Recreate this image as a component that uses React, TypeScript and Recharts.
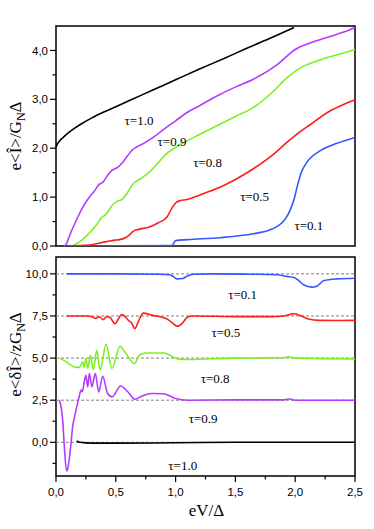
import React from 'react';
import { LineChart, Line, XAxis, YAxis, ReferenceLine, ReferenceArea, ReferenceDot } from 'recharts';

// ---------- Top panel: mean current e<I>/G_N Δ ----------
const topT10X = [0, 0.01, 0.03, 0.06, 0.1, 0.15, 0.2, 0.3, 0.4, 0.5, 0.6, 0.8, 1.0, 1.2, 1.4, 1.6, 1.8, 1.99];
const topT10Y = [2.02, 2.08, 2.15, 2.22, 2.31, 2.4, 2.48, 2.62, 2.74, 2.85, 2.96, 3.18, 3.4, 3.62, 3.83, 4.05, 4.26, 4.47];

const topT09X = [0.07, 0.09, 0.11, 0.15, 0.2, 0.25, 0.28, 0.32, 0.36, 0.39, 0.43, 0.47, 0.515, 0.56, 0.6, 0.64, 0.67, 0.72, 0.78, 0.85, 0.92, 1.0, 1.095, 1.2, 1.37, 1.5, 1.65, 1.85, 2.0, 2.1, 2.27, 2.4, 2.5];
const topT09Y = [0, 0.06, 0.19, 0.42, 0.68, 0.9, 1.0, 1.12, 1.26, 1.3, 1.44, 1.55, 1.61, 1.72, 1.85, 1.97, 2.02, 2.08, 2.17, 2.29, 2.42, 2.56, 2.73, 2.87, 3.1, 3.25, 3.41, 3.71, 4.02, 4.13, 4.27, 4.37, 4.47];

const topT08X = [0.12, 0.16, 0.2, 0.24, 0.28, 0.31, 0.34, 0.38, 0.41, 0.45, 0.48, 0.51, 0.55, 0.6, 0.64, 0.67, 0.72, 0.78, 0.85, 0.92, 1.0, 1.095, 1.2, 1.37, 1.5, 1.65, 1.82, 1.93, 2.07, 2.2, 2.35, 2.5];
const topT08Y = [0, 0.03, 0.09, 0.17, 0.27, 0.35, 0.44, 0.58, 0.63, 0.76, 0.86, 0.91, 0.95, 1.1, 1.26, 1.32, 1.4, 1.51, 1.69, 1.88, 2.02, 2.15, 2.28, 2.49, 2.65, 2.83, 3.17, 3.44, 3.68, 3.8, 3.91, 4.02];

const topT05X = [0.1, 0.28, 0.42, 0.49, 0.53, 0.58, 0.62, 0.65, 0.69, 0.78, 0.86, 0.93, 0.97, 1.0, 1.04, 1.095, 1.2, 1.37, 1.5, 1.65, 1.82, 1.93, 2.015, 2.13, 2.29, 2.4, 2.5];
const topT05Y = [0, 0.02, 0.09, 0.12, 0.13, 0.17, 0.24, 0.31, 0.34, 0.39, 0.48, 0.6, 0.78, 0.88, 0.93, 0.95, 1.04, 1.2, 1.36, 1.58, 1.88, 2.12, 2.29, 2.49, 2.76, 2.89, 2.99];

const topT01X = [0.1, 0.97, 1.0, 1.1, 1.37, 1.65, 1.78, 1.85, 1.9, 1.93, 1.96, 1.99, 2.02, 2.05, 2.1, 2.21, 2.35, 2.5];
const topT01Y = [0, 0.01, 0.11, 0.13, 0.17, 0.25, 0.32, 0.4, 0.5, 0.6, 0.75, 0.95, 1.25, 1.5, 1.72, 1.95, 2.1, 2.22];

// ---------- Bottom panel: noise e<δI>/zG_N Δ (offset curves) ----------
const botT01X = [0.09, 0.5, 0.85, 0.95, 0.98, 1.01, 1.06, 1.095, 1.15, 1.3, 1.6, 1.85, 1.93, 1.99, 2.03, 2.07, 2.14, 2.18, 2.24, 2.35, 2.5];
const botT01Y = [10.0, 10.0, 9.98, 9.95, 9.85, 9.7, 9.72, 9.86, 9.98, 10.0, 9.98, 9.95, 9.85, 9.78, 9.6, 9.35, 9.21, 9.27, 9.6, 9.7, 9.74];

const botT05X = [0.09, 0.25, 0.3, 0.33, 0.36, 0.395, 0.42, 0.45, 0.493, 0.52, 0.549, 0.58, 0.605, 0.63, 0.66, 0.69, 0.73, 0.8, 0.925, 0.97, 1.02, 1.06, 1.098, 1.15, 1.5, 1.8, 1.9, 1.99, 2.05, 2.12, 2.2, 2.35, 2.5];
const botT05Y = [7.5, 7.5, 7.45, 7.35, 7.45, 7.28, 7.45, 7.42, 7.04, 7.3, 7.59, 7.45, 7.24, 7.1, 6.75, 7.2, 7.67, 7.55, 7.34, 7.1, 6.88, 7.1, 7.43, 7.5, 7.46, 7.46, 7.5, 7.63, 7.5, 7.3, 7.24, 7.23, 7.24];

const botT08X = [0.03, 0.08, 0.12, 0.16, 0.195, 0.21, 0.223, 0.235, 0.25, 0.265, 0.287, 0.312, 0.34, 0.37, 0.418, 0.468, 0.535, 0.585, 0.655, 0.7, 0.75, 0.9, 0.97, 1.02, 1.1, 1.5, 1.9, 1.95, 2.0, 2.2, 2.5];
const botT08Y = [5.0, 4.8, 4.6, 4.45, 4.45, 4.6, 4.77, 4.45, 4.97, 4.4, 5.17, 4.32, 5.46, 4.3, 5.82, 4.38, 5.7, 5.27, 4.67, 5.2, 5.3, 5.3, 5.1, 4.95, 4.92, 5.0, 5.02, 5.07, 5.0, 4.97, 4.95];

const botT09X = [0.028, 0.045, 0.056, 0.07, 0.089, 0.1, 0.11, 0.125, 0.139, 0.155, 0.167, 0.19, 0.21, 0.22, 0.235, 0.25, 0.265, 0.279, 0.3, 0.329, 0.357, 0.39, 0.432, 0.47, 0.54, 0.6, 0.66, 0.72, 0.8, 0.9, 1.0, 1.1, 1.5, 1.9, 1.95, 2.0, 2.5];
const botT09Y = [2.5, 2.0, 1.32, -0.3, -1.7, -1.5, -1.05, -0.1, 0.92, 1.5, 1.91, 2.6, 3.1, 3.0, 3.55, 3.98, 3.29, 4.08, 3.29, 4.08, 2.99, 3.92, 2.9, 2.7, 3.34, 3.0, 2.56, 2.75, 2.9, 2.88, 2.6, 2.5, 2.52, 2.52, 2.57, 2.5, 2.5];

const botT10X = [0.173, 0.2, 0.3, 0.5, 1.0, 1.5, 2.0, 2.5];
const botT10Y = [0.08, 0.0, -0.05, -0.05, -0.03, 0.0, 0.0, 0.0];

// ---------- Ticks, references and labels ----------
const xTicks = [0, 0.25, 0.5, 0.75, 1, 1.25, 1.5, 1.75, 2, 2.25, 2.5];
const topYTicks = [0, 0.5, 1, 1.5, 2, 2.5, 3, 3.5, 4];
const botYTicks = [-1.25, 0, 1.25, 2.5, 3.75, 5, 6.25, 7.5, 8.75, 10];
const botRefLines = [0, 2.5, 5, 7.5, 10];

const topLabelText = ['τ=1.0', 'τ=0.9', 'τ=0.8', 'τ=0.5', 'τ=0.1'];
const topLabelX = [0.694, 0.97, 1.267, 1.66, 2.115];
const topLabelY = [2.56, 2.13, 1.71, 1.02, 0.43];

const botLabelText = ['τ=0.1', 'τ=0.5', 'τ=0.8', 'τ=0.9', 'τ=1.0'];
const botLabelX = [1.56, 1.42, 1.33, 1.23, 1.06];
const botLabelY = [8.78, 6.53, 3.8, 1.44, -1.4];

const COLORS = { t10: '#000000', t09: '#b23cff', t08: '#7df020', t05: '#ff1c1c', t01: '#3358ff' };

const zip = (xs: number[], ys: number[]) => xs.map((x, i) => ({ x, y: ys[i] }));
const fmt = (v: number) => v.toFixed(1).replace('.', ',');
const SANS = '"Liberation Sans", Arial, sans-serif';
const SERIF = '"Liberation Serif", "Times New Roman", serif';

const isMult = (v: number, step: number) => Math.abs(v / step - Math.round(v / step)) < 1e-6;

const makeXTick = (labels: boolean) => (props: any) => {
  const { x, y, payload } = props;
  const v = payload.value as number;
  const major = isMult(v, 0.5);
  return (
    <g>
      <line x1={x} x2={x} y1={y} y2={y + (major ? 6 : 3.5)} stroke="#000" strokeWidth={1.2} />
      {labels && major ? (
        <text x={x} y={y + 20} textAnchor="middle" fontSize={11.5} fontFamily={SANS} fill="#000">
          {fmt(v)}
        </text>
      ) : null}
    </g>
  );
};

const makeYTick = (majorStep: number) => (props: any) => {
  const { x, y, payload } = props;
  const v = payload.value as number;
  const major = isMult(v, majorStep);
  return (
    <g>
      <line x1={x - (major ? 6 : 3.5)} x2={x} y1={y} y2={y} stroke="#000" strokeWidth={1.2} />
      {major ? (
        <text x={x - 8} y={y} dy="0.36em" textAnchor="end" fontSize={11.5} fontFamily={SANS} fill="#000">
          {fmt(v)}
        </text>
      ) : null}
    </g>
  );
};

const yTitle = (pre: string, dyCenter: number) => (props: any) => {
  const vb = props.viewBox || { x: 0, y: 0, width: 56, height: 220 };
  const cx = 21;
  const cy = vb.y + vb.height / 2 + dyCenter;
  return (
    <text
      x={cx}
      y={cy}
      transform={`rotate(-90, ${cx}, ${cy})`}
      textAnchor="middle"
      fontSize={17}
      fontFamily={SERIF}
      fill="#000"
    >
      {pre}
      <tspan fontSize={12} dy={4}>N</tspan>
      <tspan dy={-4}>Δ</tspan>
    </text>
  );
};

const xTitle = (props: any) => {
  const vb = props.viewBox || { x: 56, y: 226, width: 299, height: 53 };
  return (
    <text x={vb.x + vb.width / 2 + 1} y={vb.y + 40} textAnchor="middle" fontSize={17} fontFamily={SERIF} fill="#000">
      eV/Δ
    </text>
  );
};

const tauShape = (text: string) => (p: any) => (
  <text x={p.cx} y={p.cy} dy="0.35em" textAnchor="middle" fontSize={13} fontFamily={SERIF} fill="#000">
    {text}
  </text>
);

const lineProps = { dataKey: 'y', type: 'monotone' as const, dot: false, strokeWidth: 1.6, isAnimationActive: false };

export default function App() {
  return (
    <div style={{ position: 'absolute', left: 0, top: 0, width: 374, height: 529, background: '#fff' }}>
      <div style={{ position: 'absolute', left: 0, top: 0 }}>
        <LineChart width={374} height={256} margin={{ top: 26, right: 19, bottom: 10, left: 0 }}>
          <XAxis
            dataKey="x"
            type="number"
            domain={[0, 2.5]}
            ticks={xTicks}
            interval={0}
            height={0}
            tickSize={0}
            tickMargin={0}
            axisLine={false}
            tickLine={false}
            tick={makeXTick(false)}
            allowDuplicatedCategory={false}
          />
          <YAxis
            type="number"
            domain={[0, 4.5]}
            ticks={topYTicks}
            interval={0}
            width={56}
            tickSize={0}
            tickMargin={0}
            axisLine={false}
            tickLine={false}
            tick={makeYTick(1)}
            allowDataOverflow
            label={{ content: yTitle('e<Î>/G', 0) }}
          />
          <ReferenceArea x1={0} x2={2.5} y1={0} y2={4.5} fill="none" stroke="#000" strokeWidth={1.5} />
          <Line {...lineProps} data={zip(topT10X, topT10Y)} stroke={COLORS.t10} />
          <Line {...lineProps} data={zip(topT09X, topT09Y)} stroke={COLORS.t09} />
          <Line {...lineProps} data={zip(topT08X, topT08Y)} stroke={COLORS.t08} />
          <Line {...lineProps} data={zip(topT05X, topT05Y)} stroke={COLORS.t05} />
          <Line {...lineProps} data={zip(topT01X, topT01Y)} stroke={COLORS.t01} />
          {topLabelText.map((t, i) => (
            <ReferenceDot key={t} x={topLabelX[i]} y={topLabelY[i]} r={0} shape={tauShape(t)} />
          ))}
        </LineChart>
      </div>
      <div style={{ position: 'absolute', left: 0, top: 250 }}>
        <LineChart width={374} height={279} margin={{ top: 7, right: 19, bottom: 0, left: 0 }}>
          <XAxis
            dataKey="x"
            type="number"
            domain={[0, 2.5]}
            ticks={xTicks}
            interval={0}
            height={53}
            tickSize={0}
            tickMargin={0}
            axisLine={false}
            tickLine={false}
            tick={makeXTick(true)}
            allowDuplicatedCategory={false}
            label={{ content: xTitle }}
          />
          <YAxis
            type="number"
            domain={[-2, 11]}
            ticks={botYTicks}
            interval={0}
            width={56}
            tickSize={0}
            tickMargin={0}
            axisLine={false}
            tickLine={false}
            tick={makeYTick(2.5)}
            allowDataOverflow
            label={{ content: yTitle('e<δÎ>/zG', -12) }}
          />
          {botRefLines.map((v) => (
            <ReferenceLine key={v} y={v} stroke="#808080" strokeDasharray="3 2" strokeWidth={1} />
          ))}
          <ReferenceArea x1={0} x2={2.5} y1={-2} y2={11} fill="none" stroke="#000" strokeWidth={1.5} />
          <Line {...lineProps} data={zip(botT01X, botT01Y)} stroke={COLORS.t01} />
          <Line {...lineProps} data={zip(botT05X, botT05Y)} stroke={COLORS.t05} />
          <Line {...lineProps} data={zip(botT08X, botT08Y)} stroke={COLORS.t08} />
          <Line {...lineProps} data={zip(botT09X, botT09Y)} stroke={COLORS.t09} />
          <Line {...lineProps} data={zip(botT10X, botT10Y)} stroke={COLORS.t10} />
          {botLabelText.map((t, i) => (
            <ReferenceDot key={t} x={botLabelX[i]} y={botLabelY[i]} r={0} shape={tauShape(t)} />
          ))}
        </LineChart>
      </div>
    </div>
  );
}
